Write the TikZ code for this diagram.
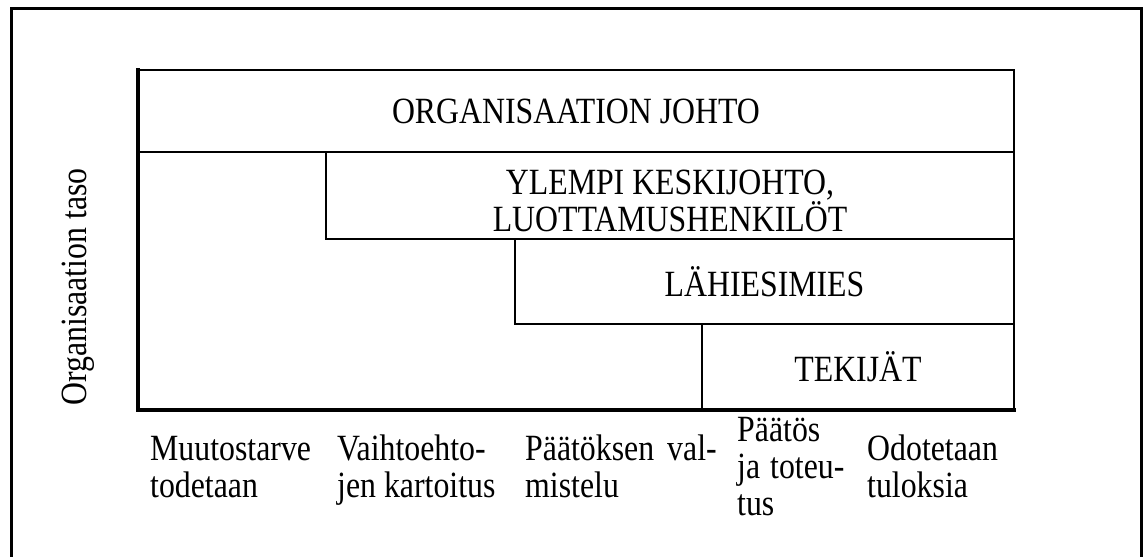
\documentclass[tikz,border=0pt]{standalone}
\usepackage{fontspec}
\setmainfont{Liberation Serif}[FakeStretch=0.86]
\usetikzlibrary{positioning}
\newcommand{\lblfont}{\fontsize{37}{37}\selectfont}
\tikzset{
  level/.style = {rectangle, draw, line width=1.6pt, inner sep=0pt, outer sep=0pt,
                  anchor=north west, align=center, font=\lblfont},
  phase/.style = {anchor=base west, align=left, inner sep=0pt, font=\lblfont},
  frame/.style = {line width=3pt},
  axis/.style  = {line width=3.5pt, line cap=rect},
}
\begin{document}
\begin{tikzpicture}[x=1pt, y=-1pt]
  \useasboundingbox (0,0) rectangle (1144,557);
  % x-positions of the step edges
  \def\xA{138}
  \def\xB{326}
  \def\xC{515}
  \def\xD{702}
  % y-positions of the level edges
  \def\yA{70}
  \def\yB{152}
  \def\yC{239}
  \def\yD{324}
  % last baselines of the phase texts
  \def\yPh{497}
  \def\yPt{515}

  % --- Outer frame ---
  \draw[frame] (11,557) -- (11,8) -- (1141,8) -- (1141,557);

  % --- Levels ---
  \node[level, minimum width=876pt, minimum height=82pt] at (\xA, \yA) (L1) {ORGANISAATION JOHTO};
  \node[level, minimum width=688pt, minimum height=87pt] at (\xB, \yB) (L2) {};
  \node[font=\lblfont, align=center, inner sep=0pt] at ([yshift=-5pt] L2.center) (L2t)
    {YLEMPI KESKIJOHTO,\\LUOTTAMUSHENKILÖT};
  \node[level, minimum width=499pt, minimum height=85pt] at (\xC, \yC) (L3) {LÄHIESIMIES};
  \node[level, minimum width=312pt, minimum height=86pt] at (\xD, \yD) (L4) {TEKIJÄT};

  % Axis lines
  \draw[axis] (L1.north west) -- (L1.north west |- L4.south) -- (L4.south east);

  % Axis label
  \node[font=\lblfont, rotate=90] at (78, 287) (ylab) {Organisaation taso};

  % --- Phases ---
  \node[phase] at (150, \yPh) (P1) {Muutostarve\\todetaan};
  \node[phase] at (337, \yPh) (P2) {Vaihtoehto-\\jen kartoitus};
  \node[phase] at (525, \yPh) (P3) {Päätöksen\hspace{13pt}val-\\mistelu};
  \node[phase] at (737, \yPt) (P4) {Päätös\\ja\hspace{10pt}toteu-\\tus};
  \node[phase] at (867, \yPh) (P5) {Odotetaan\\tuloksia};
\end{tikzpicture}
\end{document}
